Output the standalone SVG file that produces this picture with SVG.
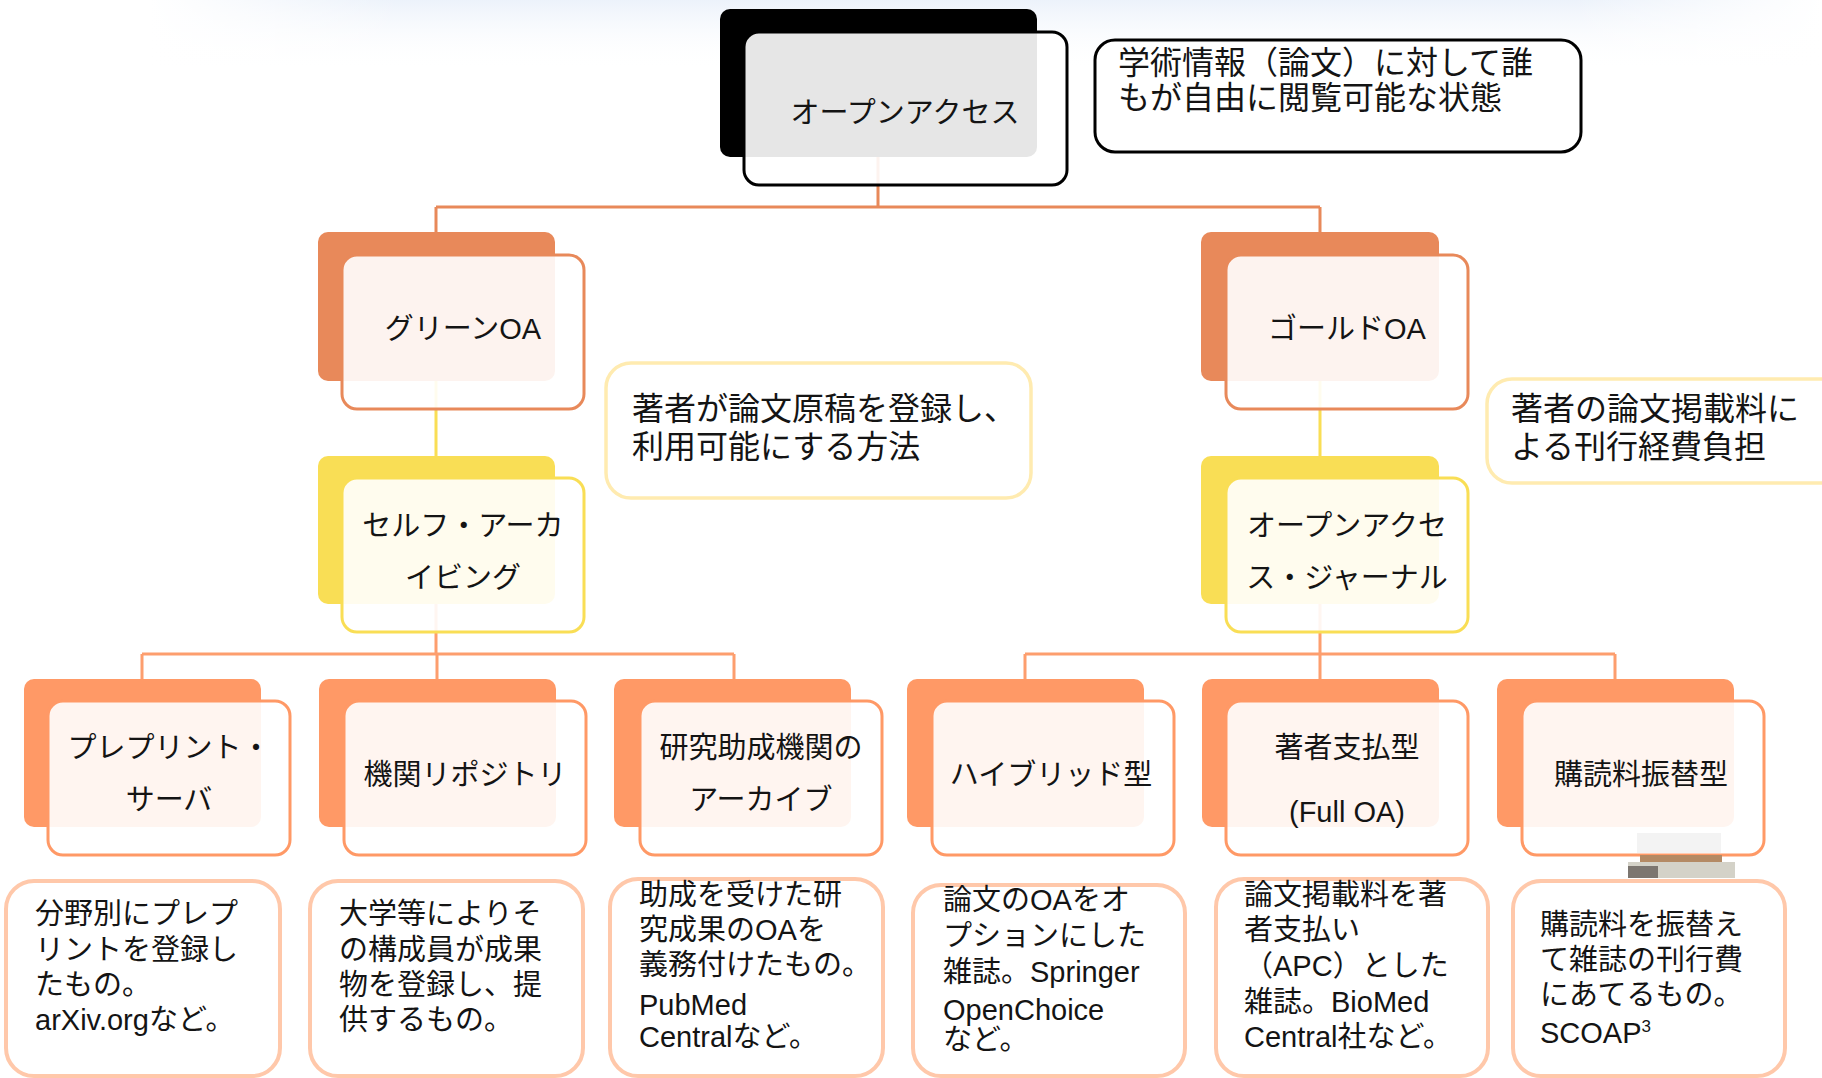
<svg xmlns="http://www.w3.org/2000/svg" width="1822" height="1078" viewBox="0 0 1822 1078">
<defs>
<linearGradient id="sky" x1="0" y1="0" x2="0" y2="1">
<stop offset="0" stop-color="#E9F0FA" stop-opacity="0.85"/>
<stop offset="1" stop-color="#FFFFFF" stop-opacity="0"/>
</linearGradient>
<linearGradient id="skyh" x1="0" y1="0" x2="1" y2="0">
<stop offset="0" stop-color="#FFFFFF" stop-opacity="1"/>
<stop offset="0.15" stop-color="#FFFFFF" stop-opacity="0"/>
<stop offset="0.85" stop-color="#FFFFFF" stop-opacity="0"/>
<stop offset="1" stop-color="#FFFFFF" stop-opacity="1"/>
</linearGradient>
<style>
text{font-family:"Liberation Sans","Noto Sans CJK JP",sans-serif;fill:#141414;}
.lbl{font-size:29px;text-anchor:middle;}
.d1{font-size:32px;}
.d2{font-size:29px;}
.front{fill:#FFFFFF;fill-opacity:0.9;stroke-width:3;}
.c1{fill:none;stroke:#E8895A;stroke-width:3;}
.c2{fill:none;stroke:#F9DE55;stroke-width:3;}
.c3{fill:none;stroke:#FD9E6E;stroke-width:3;}
.bk1{fill:#E8895A;}
.bk2{fill:#F9DE55;}
.bk3{fill:#FF9966;}
.fr1{stroke:#E8895A;}
.fr2{stroke:#F9DE55;}
.fr3{stroke:#FF9966;}
.descY{fill:#FFFFFF;stroke:#FFEBB0;stroke-width:3.5;}
.descO{fill:#FFFFFF;stroke:#FFC8AA;stroke-width:4;}
</style>
</defs>
<rect x="0" y="0" width="1822" height="1078" fill="#FFFFFF"/>
<rect x="150" y="0" width="1672" height="70" fill="url(#sky)"/>
<rect x="150" y="0" width="1672" height="70" fill="url(#skyh)"/>

<g id="connectors">
<path class="c1" d="M878 157 V207 M436 207 H1320 M436 207 V232 M1320 207 V232"/>
<path class="c2" d="M436 381 V456 M1320 381 V456"/>
<path class="c3" d="M436 604 V654 M142 654 H734 M142 654 V679 M437 654 V679 M734 654 V679"/>
<path class="c3" d="M1320 604 V654 M1025 654 H1615 M1025 654 V679 M1320 654 V679 M1615 654 V679"/>
</g>

<g id="node-oa">
<rect x="720" y="9" width="317" height="148" rx="10" fill="#000000"/>
<rect class="front" x="744" y="32" width="323" height="153" rx="15" stroke="#000000"/>
<text class="lbl" x="905" y="123">オープンアクセス</text>
</g>
<g id="desc-oa">
<rect x="1095" y="40" width="486" height="112" rx="20" fill="#FFFFFF" stroke="#000000" stroke-width="3"/>
<text class="d1" x="1118" y="74">学術情報（論文）に対して誰</text>
<text class="d1" x="1118" y="109">もが自由に閲覧可能な状態</text>
</g>

<g id="node-green">
<rect class="bk1" x="318" y="232" width="237" height="149" rx="10"/>
<rect class="front fr1" x="342" y="255" width="242" height="154" rx="15"/>
<text class="lbl" x="463" y="339">グリーンOA</text>
</g>
<g id="desc-green">
<rect class="descY" x="606" y="363" width="425" height="135" rx="25"/>
<text class="d1" x="632" y="420">著者が論文原稿を登録し、</text>
<text class="d1" x="632" y="458">利用可能にする方法</text>
</g>
<g id="node-gold">
<rect class="bk1" x="1201" y="232" width="238" height="149" rx="10"/>
<rect class="front fr1" x="1226" y="255" width="242" height="154" rx="15"/>
<text class="lbl" x="1347" y="339">ゴールドOA</text>
</g>
<g id="desc-gold">
<rect class="descY" x="1487" y="379" width="360" height="104" rx="25"/>
<text class="d1" x="1511" y="420">著者の論文掲載料に</text>
<text class="d1" x="1511" y="458">よる刊行経費負担</text>
</g>

<g id="node-self">
<rect class="bk2" x="318" y="456" width="237" height="148" rx="10"/>
<rect class="front fr2" x="342" y="478" width="242" height="154" rx="15"/>
<text class="lbl" x="463" y="536">セルフ・アーカ</text>
<text class="lbl" x="463" y="588">イビング</text>
</g>
<g id="node-journal">
<rect class="bk2" x="1201" y="456" width="238" height="148" rx="10"/>
<rect class="front fr2" x="1226" y="478" width="242" height="154" rx="15"/>
<text class="lbl" x="1347" y="536">オープンアクセ</text>
<text class="lbl" x="1347" y="588">ス・ジャーナル</text>
</g>

<g id="node-preprint">
<rect class="bk3" x="24" y="679" width="237" height="148" rx="10"/>
<rect class="front fr3" x="48" y="701" width="242" height="154" rx="15"/>
<text class="lbl" x="169" y="758">プレプリント・</text>
<text class="lbl" x="169" y="810">サーバ</text>
</g>
<g id="node-repo">
<rect class="bk3" x="319" y="679" width="237" height="148" rx="10"/>
<rect class="front fr3" x="344" y="701" width="242" height="154" rx="15"/>
<text class="lbl" x="465" y="785">機関リポジトリ</text>
</g>
<g id="node-funder">
<rect class="bk3" x="614" y="679" width="237" height="148" rx="10"/>
<rect class="front fr3" x="640" y="701" width="242" height="154" rx="15"/>
<text class="lbl" x="761" y="758">研究助成機関の</text>
<text class="lbl" x="761" y="810">アーカイブ</text>
</g>
<g id="node-hybrid">
<rect class="bk3" x="907" y="679" width="237" height="148" rx="10"/>
<rect class="front fr3" x="932" y="701" width="242" height="154" rx="15"/>
<text class="lbl" x="1051" y="785">ハイブリッド型</text>
</g>
<g id="node-author">
<rect class="bk3" x="1202" y="679" width="237" height="148" rx="10"/>
<rect class="front fr3" x="1226" y="701" width="242" height="154" rx="15"/>
<text class="lbl" x="1347" y="758">著者支払型</text>
<text class="lbl" x="1347" y="822">(Full OA)</text>
</g>
<g id="node-flip">
<rect class="bk3" x="1497" y="679" width="237" height="148" rx="10"/>
<rect class="front fr3" x="1522" y="701" width="242" height="154" rx="15"/>
<text class="lbl" x="1641" y="785">購読料振替型</text>
</g>

<g id="artifact">
<rect x="1637" y="833" width="84" height="20" fill="#F3F3F3"/>
<rect x="1640" y="855" width="82" height="7" fill="#B48A64"/>
<rect x="1628" y="862" width="107" height="16" fill="#D4D2C8"/>
<rect x="1628" y="866" width="30" height="12" fill="#7C7670"/>
</g>

<g id="desc-preprint">
<rect class="descO" x="6" y="881" width="274" height="195" rx="28"/>
<text class="d2" x="35" y="924">分野別にプレプ</text>
<text class="d2" x="35" y="960">リントを登録し</text>
<text class="d2" x="35" y="995">たもの。</text>
<text class="d2" x="35" y="1030">arXiv.orgなど。</text>
</g>
<g id="desc-repo">
<rect class="descO" x="310" y="881" width="273" height="195" rx="28"/>
<text class="d2" x="339" y="924">大学等によりそ</text>
<text class="d2" x="339" y="960">の構成員が成果</text>
<text class="d2" x="339" y="995">物を登録し、提</text>
<text class="d2" x="339" y="1030">供するもの。</text>
</g>
<g id="desc-funder">
<rect class="descO" x="610" y="879" width="273" height="197" rx="28"/>
<text class="d2" x="639" y="905">助成を受けた研</text>
<text class="d2" x="639" y="940">究成果のOAを</text>
<text class="d2" x="639" y="975">義務付けたもの。</text>
<text class="d2" x="639" y="1015">PubMed</text>
<text class="d2" x="639" y="1047">Centralなど。</text>
</g>
<g id="desc-hybrid">
<rect class="descO" x="913" y="885" width="272" height="191" rx="28"/>
<text class="d2" x="943" y="910">論文のOAをオ</text>
<text class="d2" x="943" y="946">プションにした</text>
<text class="d2" x="943" y="982">雑誌。Springer</text>
<text class="d2" x="943" y="1020">OpenChoice</text>
<text class="d2" x="943" y="1050">など。</text>
</g>
<g id="desc-author">
<rect class="descO" x="1216" y="879" width="272" height="197" rx="28"/>
<text class="d2" x="1244" y="905">論文掲載料を著</text>
<text class="d2" x="1244" y="940">者支払い</text>
<text class="d2" x="1244" y="976">（APC）とした</text>
<text class="d2" x="1244" y="1012">雑誌。BioMed</text>
<text class="d2" x="1244" y="1047">Central社など。</text>
</g>
<g id="desc-flip">
<rect class="descO" x="1513" y="881" width="272" height="195" rx="28"/>
<text class="d2" x="1540" y="935">購読料を振替え</text>
<text class="d2" x="1540" y="970">て雑誌の刊行費</text>
<text class="d2" x="1540" y="1005">にあてるもの。</text>
<text class="d2" x="1540" y="1043">SCOAP<tspan font-size="17" dy="-11">3</tspan></text>
</g>
</svg>
